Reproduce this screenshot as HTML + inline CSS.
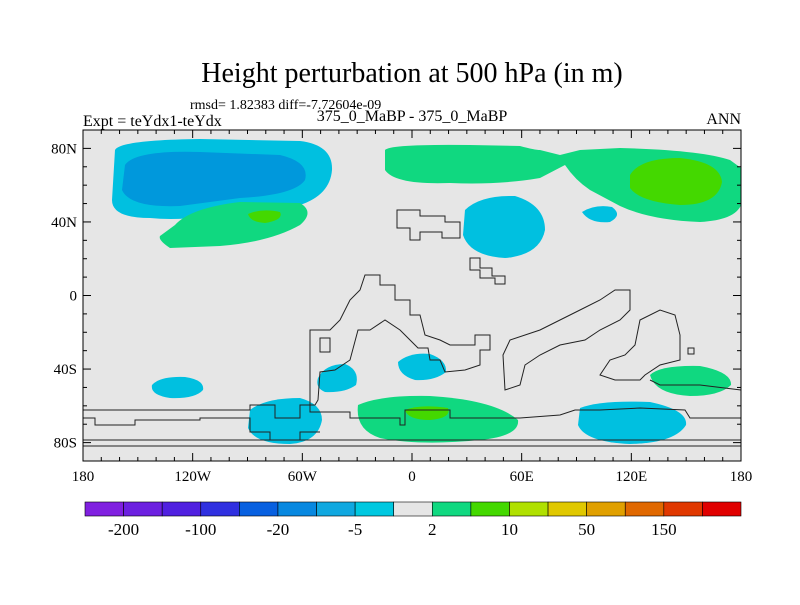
<!DOCTYPE html>
<html><head><meta charset="utf-8"><style>
body{margin:0;background:#fff;}
svg text{font-family:"Liberation Serif",serif;fill:#000;}
</style></head><body>
<svg width="800" height="600" viewBox="0 0 800 600">
<text x="412" y="82" font-size="28" text-anchor="middle">Height perturbation at 500 hPa (in m)</text>
<text x="190" y="109" font-size="14">rmsd= 1.82383 diff=-7.72604e-09</text>
<text x="83" y="126" font-size="16">Expt = teYdx1-teYdx</text>
<text x="412" y="121" font-size="16" text-anchor="middle">375_0_MaBP - 375_0_MaBP</text>
<text x="741" y="124" font-size="16" text-anchor="end">ANN</text>
<g id="map">
<rect x="83" y="130" width="658" height="331" fill="#e6e6e6"/>
<g>
<path d="M115,150 Q120,140 200,139 L300,141 Q333,145 332,170 Q330,195 300,205 L240,210 Q190,222 150,218 Q112,218 112,200 Z" fill="#00c0e0"/>
<path d="M125,165 Q135,150 200,152 L280,155 Q310,162 305,180 Q295,195 240,198 L180,206 Q130,208 122,190 Z" fill="#0098dc"/>
<path d="M175,225 Q190,208 240,202 L300,203 Q315,212 300,225 Q270,242 220,246 L170,248 Q158,240 160,236 Z" fill="#10d880"/>
<path d="M248,214 Q262,208 280,212 Q284,220 265,223 Q250,222 248,214 Z" fill="#44d800"/>
<path d="M465,210 Q480,195 515,196 Q545,205 545,230 Q540,255 505,258 Q470,256 463,235 Z" fill="#00c0e0"/>
<path d="M582,212 Q595,204 612,207 Q623,215 610,222 Q590,224 582,212 Z" fill="#00c0e0"/>
<path d="M385,150 Q390,144 470,145 L520,146 Q535,150 540,150 L560,155 L580,150 L620,148 Q700,150 730,160 L741,168 L741,205 Q735,220 700,222 Q650,220 620,206 L590,190 Q575,180 565,165 L540,178 Q500,185 450,183 Q395,185 385,170 Z" fill="#10d880"/>
<path d="M630,175 Q640,158 680,158 Q720,162 722,182 Q718,205 680,205 Q640,202 630,188 Z" fill="#44d800"/>
<path d="M152,385 Q160,376 185,377 Q205,380 203,390 Q195,399 170,398 Q150,395 152,385 Z" fill="#00c0e0"/>
<path d="M318,378 Q325,364 345,364 Q360,370 356,385 Q345,393 325,392 Q315,388 318,378 Z" fill="#00c0e0"/>
<path d="M398,362 Q410,352 430,354 Q447,360 446,372 Q435,381 415,380 Q398,375 398,362 Z" fill="#00c0e0"/>
<path d="M650,375 Q660,365 700,366 Q732,372 731,385 Q720,396 690,396 Q655,394 650,375 Z" fill="#10d880"/>
<path d="M250,410 Q265,398 300,398 Q322,404 322,420 Q318,442 290,444 Q255,444 248,428 Z" fill="#00c0e0"/>
<path d="M358,405 Q380,395 430,396 Q495,400 518,420 Q520,436 480,440 Q420,446 380,438 Q355,430 358,405 Z" fill="#10d880"/>
<path d="M405,410 Q420,404 448,408 Q452,418 430,420 Q408,420 405,410 Z" fill="#44d800"/>
<path d="M580,408 Q600,400 650,402 Q688,410 686,425 Q675,443 630,444 Q585,442 578,425 Z" fill="#00c0e0"/>
</g>
<g fill="none" stroke="#222" stroke-width="1">
<path d="M397,210 L420,210 L420,216 L445,216 L445,222 L460,222 L460,238 L442,238 L442,232 L420,232 L420,240 L410,240 L410,228 L397,228 Z"/>
<path d="M470,258 L480,258 L480,268 L492,268 L492,276 L505,276 L505,284 L495,284 L495,278 L480,278 L480,270 L470,270 Z"/>
<path d="M365,275 L380,275 L380,285 L395,285 L395,300 L410,300 L410,315 L420,315 L425,335 L440,340 L450,345 L475,345 L475,335 L490,335 L490,350 L480,350 L480,365 L465,370 L445,372 L440,360 L430,360 L428,348 L418,348 L410,340 L400,330 L385,320 L370,330 L358,330 L350,360 L335,370 L320,372 L318,400 L315,405 L310,405 L310,330 L330,330 L340,320 L350,300 L360,290 Z"/>
<path d="M503,355 L510,340 L540,330 L560,320 L580,310 L600,300 L615,290 L630,290 L630,310 L620,320 L600,330 L585,340 L560,345 L540,355 L525,365 L520,385 L505,390 Z"/>
<path d="M640,320 L660,310 L675,315 L680,335 L680,360 L660,365 L645,375 L640,380 L615,380 L600,375 L610,360 L625,355 L635,345 Z"/>
<path d="M320,338 L330,338 L330,352 L320,352 Z"/>
<path d="M688,348 L694,348 L694,354 L688,354 Z"/>
<path d="M83,410 L250,410 L250,405 L275,405 L275,418 L300,418 L300,405 L310,405 L310,412 L350,412 L350,418 L400,418 L400,425 L405,425 L405,410 L450,410 L450,418 L520,418 L560,415 L575,410 L600,410 L640,408 L685,410 L690,418 L741,418"/>
<path d="M83,418 L95,418 L95,425 L135,425 L135,420 L200,420 L200,418 L250,418 L250,432 L270,432 L270,440 L300,440 L300,432 L320,432"/>
<path d="M83,440 L741,440 M83,446 L741,446"/>
<path d="M650,380 L660,385 L700,385 L741,390"/>
</g>
<rect x="83" y="130" width="658" height="331" fill="none" stroke="#000" stroke-width="1"/>
<g id="ticks" stroke="#000" stroke-width="1"></g>
<g id="ticklabels" font-size="15"></g>
</g>
<g id="colorbar"></g>
</svg>
<script>
const lonTicks=[-180,-120,-60,0,60,120,180];
const lonLabels=["180","120W","60W","0","60E","120E","180"];
const latTicks=[80,40,0,-40,-80];
const latLabels=["80N","40N","0","40S","80S"];
const cbColors=["#8020e0","#6c20e0","#5020e0","#3030e0","#0860e0","#0888e0","#10a8e0","#00c8e0","#e6e6e6","#10d880","#44d800","#b0e000","#e0c800","#e0a000","#e06800","#e03800","#e00000"];
const cbLabels=["-200","-100","-20","-5","2","10","50","150"];
const NS="http://www.w3.org/2000/svg";
const xL=83,xR=741,yT=130,yB=461;
const xs=l=>xL+(l+180)/360*(xR-xL);
const ys=l=>yT+(90-l)/180*(yB-yT);
const tk=document.getElementById('ticks'),tl=document.getElementById('ticklabels');
function line(p,x1,y1,x2,y2){const e=document.createElementNS(NS,'line');e.setAttribute('x1',x1);e.setAttribute('y1',y1);e.setAttribute('x2',x2);e.setAttribute('y2',y2);p.appendChild(e);return e;}
for(let l=-180;l<=180;l+=10){const big=lonTicks.includes(l);const x=xs(l);
const a=line(tk,x,yB,x,yB-(big?8:4));


const b=line(tk,x,yT,x,yT+(big?8:4));

}
for(let l=-90;l<=90;l+=10){const big=latTicks.includes(l);const y=ys(l);
const a=line(tk,xL,y,xL+(big?8:4),y);


const b=line(tk,xR,y,xR-(big?8:4),y);

}
lonTicks.forEach((l,i)=>{const t=document.createElementNS(NS,'text');t.setAttribute('x',xs(l));t.setAttribute('y',481);t.setAttribute('text-anchor','middle');t.textContent=lonLabels[i];


tl.appendChild(t);});
latTicks.forEach((l,i)=>{const t=document.createElementNS(NS,'text');t.setAttribute('x',77);t.setAttribute('y',ys(l)+5);t.setAttribute('text-anchor','end');t.textContent=latLabels[i];


tl.appendChild(t);});
const cb=document.getElementById('colorbar');const cx0=85,cx1=741,w=(cx1-cx0)/cbColors.length;
cbColors.forEach((c,i)=>{const r=document.createElementNS(NS,'rect');r.setAttribute('x',cx0+i*w);r.setAttribute('y',502);r.setAttribute('width',w);r.setAttribute('height',14);r.setAttribute('fill',c);r.setAttribute('stroke','#000');r.setAttribute('stroke-width','0.6');


cb.appendChild(r);});
cbLabels.forEach((s,i)=>{const t=document.createElementNS(NS,'text');t.setAttribute('x',cx0+(2*i+1)*w);t.setAttribute('y',535);t.setAttribute('text-anchor','middle');t.setAttribute('font-size','17');t.textContent=s;


cb.appendChild(t);});
</script>
</body></html>
